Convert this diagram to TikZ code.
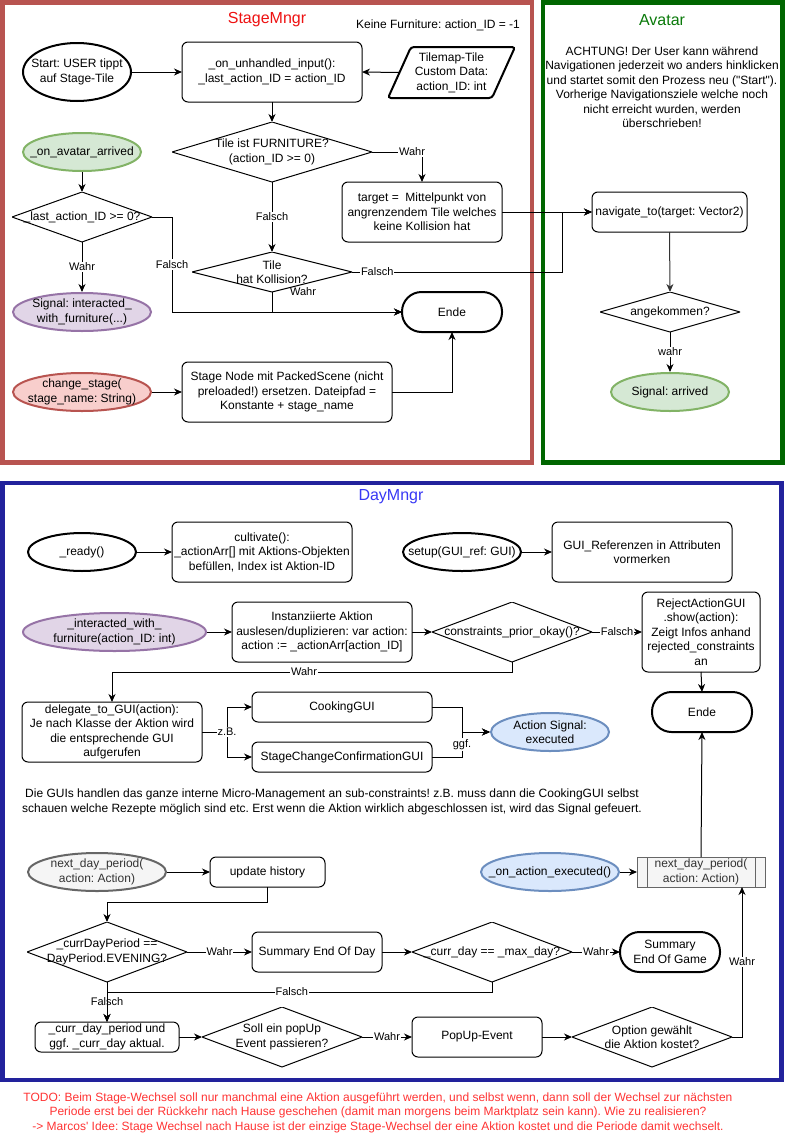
\documentclass[tikz,border=0pt]{standalone}
\usepackage{fontspec}
\setmainfont{Liberation Sans}[Ligatures=TeXOff]
\usetikzlibrary{arrows.meta}
\frenchspacing

\definecolor{stageRed}{HTML}{B85450}
\definecolor{titleRed}{HTML}{EE1111}
\definecolor{avatarGreen}{HTML}{006600}
\definecolor{titleGreen}{HTML}{0A7A0A}
\definecolor{dayBlue}{HTML}{22229C}
\definecolor{titleBlue}{HTML}{3838F5}
\definecolor{todoRed}{HTML}{FF3333}
\definecolor{greenFill}{HTML}{D5E8D4}
\definecolor{greenLine}{HTML}{82B366}
\definecolor{purpleFill}{HTML}{E1D5E7}
\definecolor{purpleLine}{HTML}{9673A6}
\definecolor{pinkFill}{HTML}{F8CECC}
\definecolor{blueFill}{HTML}{DAE8FC}
\definecolor{blueLine}{HTML}{6C8EBF}
\definecolor{greyFill}{HTML}{F5F5F5}
\definecolor{greyLine}{HTML}{666666}
\definecolor{greyText}{HTML}{333333}

\begin{document}
\frenchspacing
\begin{tikzpicture}[x=1pt, y=-1pt,
  every node/.style={font=\fontsize{12}{14.5}\selectfont, align=center, outer sep=0pt},
  box/.style 2 args={draw, line width=1pt, rounded corners=6pt, fill=white,
    minimum width=#1pt, minimum height=#2pt, inner xsep=0.5pt, inner ysep=1pt},
  term/.style 2 args={draw, line width=2pt, rounded corners=19.5pt, fill=white,
    minimum width=#1pt, minimum height=#2pt, inner sep=1pt},
  ovl/.style n args={4}{minimum width=#1pt, minimum height=#2pt, inner sep=0pt,
    path picture={\draw[line width=2pt, draw=#3, fill=#4]
      (path picture bounding box.center) ellipse [x radius=#1/2-1, y radius=#2/2-1];}},
  dia/.style 2 args={minimum width=#1pt, minimum height=#2pt, inner sep=0pt,
    path picture={\draw[line width=1pt, line join=round]
      (path picture bounding box.north) -- (path picture bounding box.east)
      -- (path picture bounding box.south) -- (path picture bounding box.west) -- cycle;}},
  proc/.style 2 args={draw=greyLine, fill=greyFill, line width=1pt, text=greyText,
    minimum width=#1pt, minimum height=#2pt, inner sep=0pt,
    path picture={\draw[draw=greyLine, line width=1pt]
      ([xshift=10pt]path picture bounding box.north west) -- ([xshift=10pt]path picture bounding box.south west)
      ([xshift=-10pt]path picture bounding box.north east) -- ([xshift=-10pt]path picture bounding box.south east);}},
  frame/.style={line width=4.5pt, fill=white},
  title/.style={font=\fontsize{16}{18}\selectfont},
  conn/.style={line width=1pt, -{Stealth[length=8pt, width=7pt, inset=2.5pt]}},
  lbl/.style={font=\fontsize{11}{13}\selectfont, fill=white, inner sep=1pt},
  lblnf/.style={font=\fontsize{11}{13}\selectfont, inner sep=1pt},
]
\useasboundingbox (0,0) rectangle (785,1143);

% ---------- frames ----------
\draw[frame, draw=stageRed] (2.5,2.5) rectangle (532,462.5);
\draw[frame, draw=avatarGreen] (543,2.5) rectangle (782.5,462.5);
\draw[frame, draw=dayBlue] (2.5,483) rectangle (781.5,1080);

% ---------- StageMngr ----------
\node[title, text=titleRed] (tStage) at (267,20) {StageMngr};
\node (noFurn) at (438,25) {Keine Furniture: action\_ID = -1};

\node[ovl={110}{60}{black}{white}] (start) at (77,72) {Start: USER tippt\\auf Stage-Tile};
\node[box={180}{60}] (input) at (272,72) {\_on\_unhandled\_input():\\\_last\_action\_ID = action\_ID};
\node[minimum width=127pt, minimum height=51pt, inner sep=0pt] (tile) at (451.5,72.5) {};
\draw[line width=2pt, rounded corners=3pt, fill=white]
  ([xshift=23pt]tile.north west) -- (tile.north east) -- ([xshift=-23pt]tile.south east)
  -- (tile.south west) -- cycle;
\node at (tile.center) {Tilemap-Tile\\Custom Data:\\action\_ID: int};
\coordinate (tileL) at ([xshift=11.5pt]tile.west);

\node[dia={200}{60}] (fur) at (272,152) {Tile ist FURNITURE?\\(action\_ID >= 0)};
\node[box={160}{60}] (target) at (422,212) {target =\ \ Mittelpunkt von\\angrenzendem Tile welches\\keine Kollision hat};
\node[dia={160}{40}] (coll) at (272,272) {Tile\\hat Kollision?};
\node[term={100}{40}] (ende1) at (452,312) {Ende};

\node[ovl={120}{40}{greenLine}{greenFill}] (avat) at (82,152) {\_on\_avatar\_arrived};
\node[dia={140}{50}] (last) at (82,217) {\_last\_action\_ID >= 0?};
\node[ovl={140}{40}{purpleLine}{purpleFill}] (sigint) at (82,312) {Signal: interacted\_\\with\_furniture(...)};
\node[ovl={140}{40}{stageRed}{pinkFill}] (chg) at (82,392) {change\_stage(\\stage\_name: String)};
\node[box={210}{60}] (stg) at (287,392) {Stage Node mit PackedScene (nicht\\preloaded!) ersetzen. Dateipfad =\\Konstante + stage\_name};

% ---------- Avatar ----------
\node[title, text=titleGreen] (tAvatar) at (662,20) {Avatar};
\node (warn) at (662,87) {ACHTUNG! Der User kann während\\Navigationen jederzeit wo anders hinklicken\\und startet somit den Prozess neu ("Start").\\Vorherige Navigationsziele welche noch\\nicht erreicht wurden, werden\\überschrieben!};
\node[box={155}{40}] (nav) at (669.5,212) {navigate\_to(target: Vector2)};
\node[dia={140}{40}] (ank) at (670,312) {angekommen?};
\node[ovl={120}{40}{greenLine}{greenFill}] (arr) at (670,392) {Signal: arrived};
\coordinate (jn) at (562,212);

% StageMngr / Avatar connectors
\draw[conn] (start.east) -- (input.west);
\draw[conn] (tileL) -- (input.east);
\draw[conn] (input.south) -- (fur.north);
\draw[conn] (fur.east) -| node[lbl, pos=0.4] {Wahr} (target.north);
\draw[conn] (fur.south) -- node[lbl] {Falsch} (coll.north);
\draw[conn] (coll.east) -- node[lbl, pos=0.12] {Falsch} (coll.east -| jn) |- (nav.west);
\draw[conn] (target.east) -- (nav.west);
\draw[conn] (coll.south) |- (ende1.west);
\node[lblnf] (wahrColl) at (303,292) {Wahr};
\draw[conn] (avat.south) -- (last.north);
\draw[conn] (last.east) -- ++(20,0) |- node[lbl, pos=0.25] {Falsch} (ende1.west);
\draw[conn] (last.south) -- node[lbl] {Wahr} (sigint.north);
\draw[conn] (chg.east) -- (stg.west);
\draw[conn] (stg.east) -| (ende1.south);
\draw[conn, draw=greyText] (nav.south) -- (ank.north);
\draw[conn] (ank.south) -- node[lbl] {wahr} (arr.north);

% ---------- DayMngr ----------
\node[title, text=titleBlue] (tDay) at (391,497) {DayMngr};
\node[ovl={110}{40}{black}{white}] (ready) at (82,552) {\_ready()};
\node[box={180}{60}] (cult) at (262,552) {cultivate():\\\_actionArr[] mit Aktions-Objekten\\befüllen, Index ist Aktion-ID};
\node[ovl={120}{40}{black}{white}] (setup) at (462,552) {setup(GUI\_ref: GUI)};
\node[box={180}{60}] (guiref) at (642,552) {GUI\_Referenzen in Attributen\\vormerken};

\node[ovl={185}{40}{purpleLine}{purpleFill}] (intf) at (114.5,632) {\_interacted\_with\_\\furniture(action\_ID: int)};
\node[box={180}{60}] (inst) at (322,632) {Instanziierte Aktion\\auslesen/duplizieren: var action:\\action := \_actionArr[action\_ID]};
\node[dia={160}{60}] (cons) at (512,632) {constraints\_prior\_okay()?};
\node[box={118}{80}] (rej) at (701,632) {RejectActionGUI\\.show(action):\\Zeigt Infos anhand\\rejected\_constraints\\an};
\node[term={100}{40}] (ende2) at (702,712) {Ende};

\node[box={180}{60}] (dele) at (112,732) {delegate\_to\_GUI(action):\\Je nach Klasse der Aktion wird\\die entsprechende GUI\\aufgerufen};
\node[box={180}{30}] (cook) at (342,707) {CookingGUI};
\node[box={180}{30}] (stc) at (342,757) {StageChangeConfirmationGUI};
\node[ovl={120}{40}{blueLine}{blueFill}] (exe) at (550,732) {Action Signal:\\executed};

\node (gnote) at (332,802) {Die GUIs handlen das ganze interne Micro-Management an sub-constraints! z.B. muss dann die CookingGUI selbst\\schauen welche Rezepte möglich sind etc. Erst wenn die Aktion wirklich abgeschlossen ist, wird das Signal gefeuert.};

\node[ovl={140}{40}{greyLine}{greyFill}, text=greyText] (ndpE) at (97,872) {next\_day\_period(\\action: Action)};
\node[box={115}{30}] (upd) at (267.5,872) {update history};
\node[ovl={140}{40}{blueLine}{blueFill}] (exec) at (550,872) {\_on\_action\_executed()};
\node[proc={128}{30}] (ndpB) at (701,872) {next\_day\_period(\\action: Action)};

\node[dia={160}{60}] (cdp) at (107,952) {\_currDayPeriod ==\\DayPeriod.EVENING?};
\node[box={130}{40}] (sum) at (317,952) {Summary End Of Day};
\node[dia={160}{60}] (maxd) at (492,952) {\_curr\_day == \_max\_day?};
\node[term={100}{40}] (sgame) at (670,952) {Summary\\End Of Game};

\node[box={144}{30}] (cdpbox) at (107,1037) {\_curr\_day\_period und\\ggf. \_curr\_day aktual.};
\node[dia={160}{60}] (pop) at (282,1037) {Soll ein popUp\\Event passieren?};
\node[box={130}{40}] (pev) at (477,1037) {PopUp-Event};
\node[dia={160}{60}] (opt) at (652,1037) {Option gewählt\\die Aktion kostet?};

% DayMngr connectors
\draw[conn] (ready.east) -- (cult.west);
\draw[conn] (setup.east) -- (guiref.west);
\draw[conn] (intf.east) -- (inst.west);
\draw[conn] (inst.east) -- (cons.west);
\draw[conn] (cons.east) -- node[lbl] {Falsch} (rej.west);
\draw[conn] (rej.south) -- (ende2.north);
\draw[conn] (cons.south) -- ++(0,10) -| node[lbl, pos=0.26] {Wahr} (dele.north);
\draw[conn] (dele.east) -- ++(25,0) |- (cook.west);
\draw[conn] (dele.east) -- ++(25,0) |- (stc.west);
\node[lbl] (zb) at ([xshift=25pt]dele.east) {z.B.};
\draw[conn] (cook.east) -- ++(30,0) |- (exe.west);
\draw[conn] (stc.east) -- ++(30,0) |- node[lbl, pos=0.25] {ggf.} (exe.west);

\draw[conn] (ndpE.east) -- (upd.west);
\draw[conn] (upd.south) -- ++(0,15) -| (cdp.north);
\draw[conn] (cdp.east) -- node[lbl] {Wahr} (sum.west);
\draw[conn] (sum.east) -- (maxd.west);
\draw[conn] (maxd.east) -- node[lbl] {Wahr} (sgame.west);
\draw[conn] (maxd.south) -- ++(0,10) -| node[lbl, pos=0.26] {Falsch} (cdpbox.north);
\draw[conn] (cdp.south) -- (cdpbox.north);
\node[lblnf] (falschCdp) at (107,1002) {Falsch};
\draw[conn] (cdpbox.east) -- (pop.west);
\draw[conn] (pop.east) -- node[lbl] {Wahr} (pev.west);
\draw[conn] (pev.east) -- (opt.west);
\draw[conn] (opt.east) -| node[lbl, pos=0.75] {Wahr} ([xshift=41pt]ndpB.south);
\draw[conn] (exec.east) -- (ndpB.west);
\draw[conn] (ndpB.north) -- (ende2.south);

% ---------- open question below ----------
\node[text=todoRed] (todo) at (378,1112.5) {TODO: Beim Stage-Wechsel soll nur manchmal eine Aktion ausgeführt werden, und selbst wenn, dann soll der Wechsel zur nächsten\\Periode erst bei der Rückkehr nach Hause geschehen (damit man morgens beim Marktplatz sein kann). Wie zu realisieren?\\-> Marcos' Idee: Stage Wechsel nach Hause ist der einzige Stage-Wechsel der eine Aktion kostet und die Periode damit wechselt.};
\end{tikzpicture}
\end{document}
